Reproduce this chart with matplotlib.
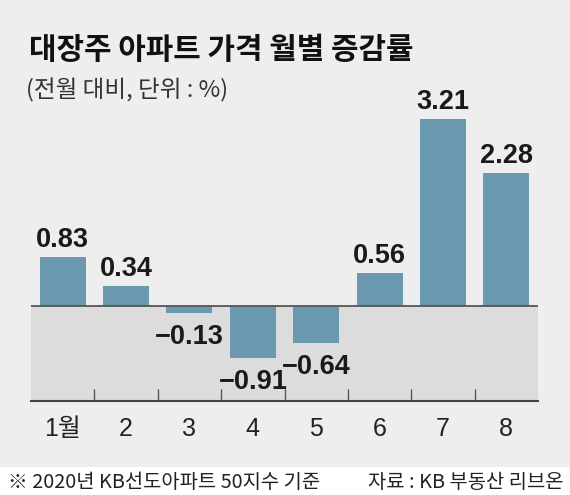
import matplotlib.pyplot as plt
from matplotlib.patches import Rectangle

# 데이터
months = ["1월", "2", "3", "4", "5", "6", "7", "8"]
changes = [0.83, 0.34, -0.13, -0.91, -0.64, 0.56, 3.21, 2.28]

title = "대장주 아파트 가격 월별 증감률"
subtitle = "(전월 대비, 단위 : %)"
note = "※ 2020년 KB선도아파트 50지수 기준"
source = "자료 : KB 부동산 리브온"

bg = "#eeeeee"
zone = "#dcdcdc"
bar_color = "#6b9ab0"
num_font = ["Liberation Sans", "Noto Sans CJK KR"]
kr_font = ["Noto Sans CJK KR", "DejaVu Sans"]

fig = plt.figure(figsize=(5.7, 4.95), dpi=100, facecolor=bg)
# 하단 흰색 출처 영역
fig.patches.append(Rectangle((0, 0), 1, 28 / 495, transform=fig.transFigure,
                             facecolor="white", edgecolor="none", zorder=0))

ax = fig.add_axes([31 / 570, 1 - 400.5 / 495, 507 / 570, 300.5 / 495])
ax.patch.set_visible(False)
ymin = -(400.5 - 305.5) / 58.2
ymax = (305.5 - 100) / 58.2
ax.set_xlim(-0.5, len(months) - 0.5)
ax.set_ylim(ymin, ymax)

# 0 아래 회색 영역
ax.axhspan(ymin, 0, color=zone, zorder=0, lw=0)
x = list(range(len(months)))
ax.bar(x, changes, width=0.725, color=bar_color, zorder=2)
ax.axhline(0, color="#555555", lw=1.3, zorder=3)

for i, v in zip(x, changes):
    label = f"{v:.2f}".replace("-", "\u2212")
    off = 7.2 if v >= 0 else -22.3
    ax.annotate(label, (i, v), xytext=(0, off), textcoords="offset points",
                ha="center", va="baseline", fontsize=19.5, fontweight="bold",
                family=num_font, color="#1a1a1a", annotation_clip=False)

for s in ["top", "left", "right"]:
    ax.spines[s].set_visible(False)
ax.spines["bottom"].set_color("#444444")
ax.spines["bottom"].set_linewidth(1.5)
ax.spines["bottom"].set_zorder(4)
ax.set_yticks([])

ax.set_xticks(x)
ax.set_xticklabels(months, family=num_font, fontsize=18, color="#222222")
ax.tick_params(axis="x", which="major", length=0, pad=12)
ax.set_xticks([i + 0.5 for i in x[:-1]], minor=True)
ax.tick_params(axis="x", which="minor", direction="in", length=9,
               width=1, color="#555555")

fig.text(29 / 570, 1 - 50 / 495, title, fontsize=21.5, fontweight="heavy",
         family=kr_font, color="#111111", va="center", ha="left")
fig.text(26 / 570, 1 - 90 / 495, subtitle, fontsize=17,
         family=kr_font, color="#333333", va="center", ha="left")
fig.text(8 / 570, 1 - 482 / 495, note, fontsize=14.3,
         family=kr_font, color="#222222", va="center", ha="left")
fig.text(563 / 570, 1 - 482 / 495, source, fontsize=14.3,
         family=kr_font, color="#222222", va="center", ha="right")

fig.savefig("out.png", dpi=100, facecolor=bg)
